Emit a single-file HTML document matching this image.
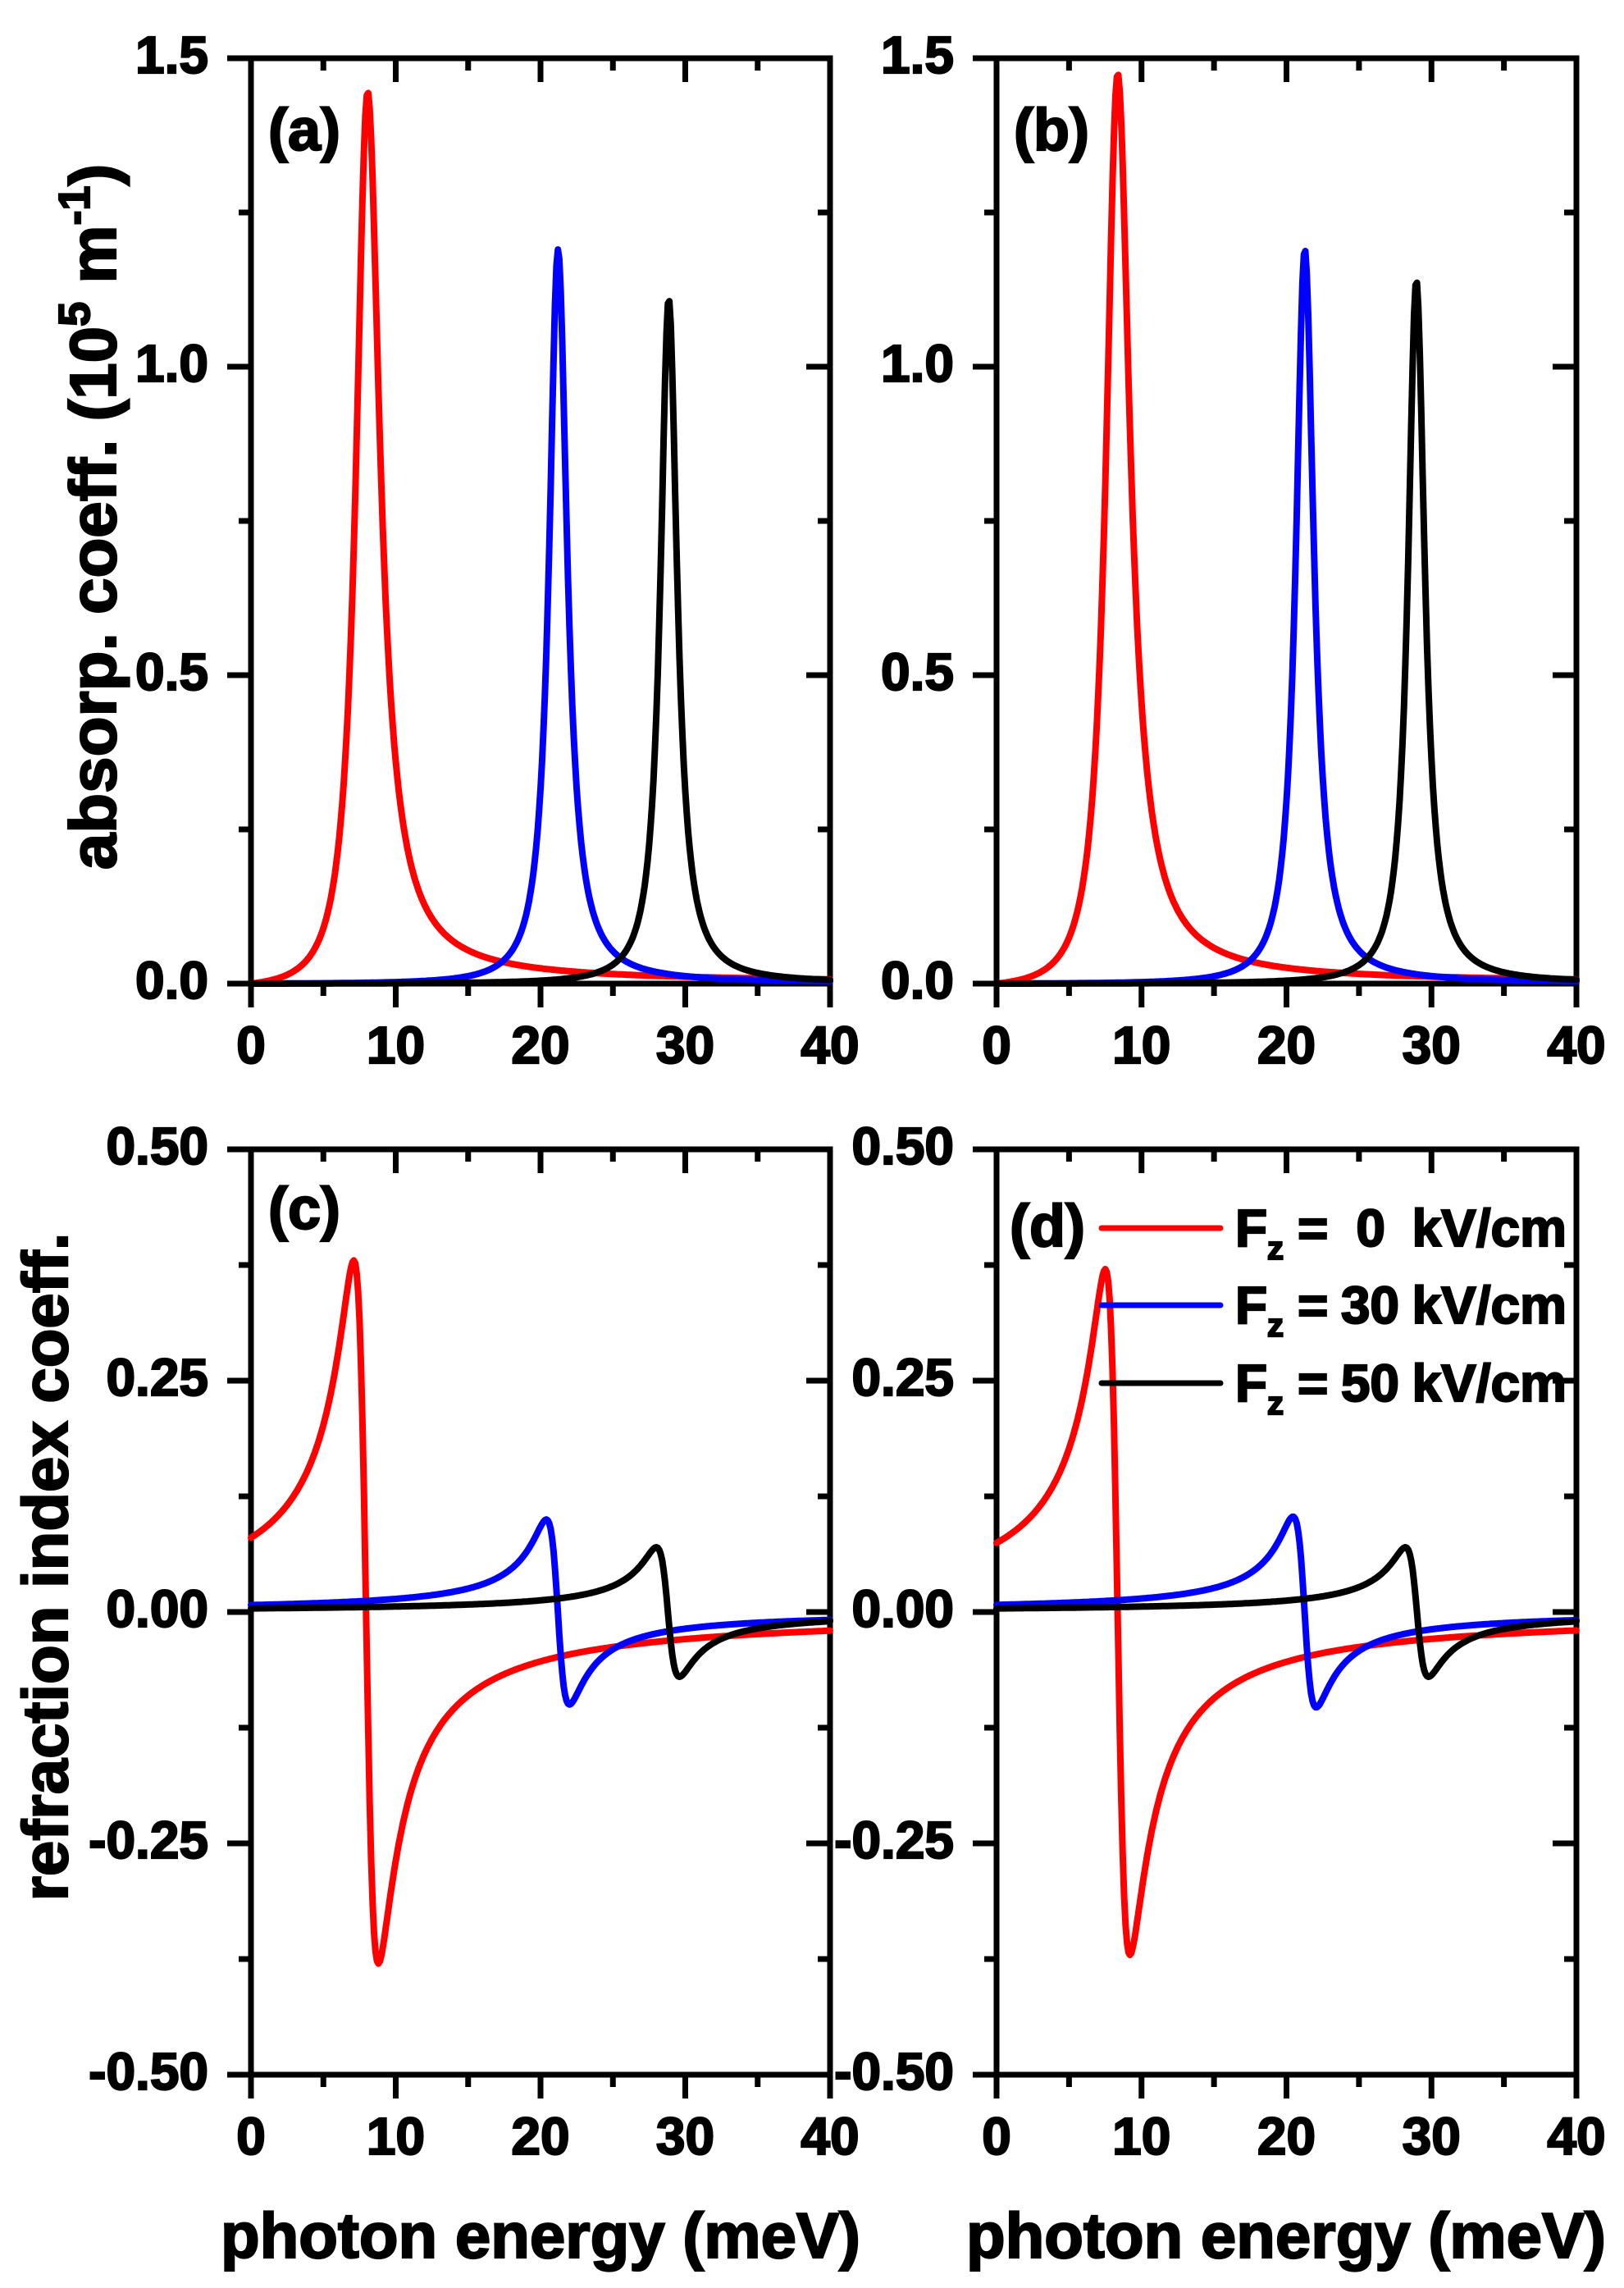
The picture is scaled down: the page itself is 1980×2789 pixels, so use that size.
<!DOCTYPE html>
<html><head><meta charset="utf-8"><style>
html,body{margin:0;padding:0;background:#fff;}
svg{display:block;}
text{font-family:"Liberation Sans",Arial,sans-serif;font-weight:bold;fill:#000;stroke:#000;stroke-width:2.2;}
</style></head><body>
<svg id="s" width="1980" height="2789" viewBox="0 0 1980 2789" xmlns="http://www.w3.org/2000/svg">
<g id="axes" stroke="#000" stroke-width="7" fill="none"></g>
<g id="curves" fill="none" stroke-width="8" stroke-linejoin="round" stroke-linecap="round"></g>
<g id="labels" font-size="64"></g>

<text x="327" y="183" font-size="72">(a)</text>
<text x="1236" y="183" font-size="72">(b)</text>
<text x="327" y="1498" font-size="72">(c)</text>
<text x="1231" y="1519" font-size="72">(d)</text>

<text font-size="80" transform="translate(141,630) rotate(-90)" text-anchor="middle">absorp. coeff. (10<tspan font-size="54" dy="-32">5</tspan><tspan dy="32"> m</tspan><tspan font-size="54" dy="-32">-1</tspan><tspan dy="32">)</tspan></text>
<text font-size="78" transform="translate(82,1910) rotate(-90)" text-anchor="middle">refraction index coeff.</text>
<text x="659" y="2752" font-size="78" text-anchor="middle">photon energy (meV)</text>
<text x="1568" y="2752" font-size="78" text-anchor="middle">photon energy (meV)</text>

<g stroke-width="7" stroke-linecap="round">
<line x1="1343" y1="1497" x2="1488" y2="1497" stroke="#f00"/>
<line x1="1343" y1="1591" x2="1488" y2="1591" stroke="#00f"/>
<line x1="1343" y1="1686" x2="1488" y2="1686" stroke="#000"/>
</g>
<g font-size="64">
<text x="1506" y="1519">F</text><text x="1545" y="1535" font-size="40">z</text><text x="1582" y="1519">=</text><text x="1689" y="1519" text-anchor="end">0</text><text x="1910" y="1519" text-anchor="end">kV/cm</text>
<text x="1506" y="1613">F</text><text x="1545" y="1629" font-size="40">z</text><text x="1582" y="1613">=</text><text x="1706" y="1613" text-anchor="end">30</text><text x="1910" y="1613" text-anchor="end">kV/cm</text>
<text x="1506" y="1708">F</text><text x="1545" y="1724" font-size="40">z</text><text x="1582" y="1708">=</text><text x="1706" y="1708" text-anchor="end">50</text><text x="1910" y="1708" text-anchor="end">kV/cm</text>
</g>
</svg>
<script>
(function(){
var NS="http://www.w3.org/2000/svg";
var axes=document.getElementById('axes'),curves=document.getElementById('curves'),labels=document.getElementById('labels');
function el(p,t,a,txt){var e=document.createElementNS(NS,t);for(var k in a)e.setAttribute(k,a[k]);if(txt!=null)e.textContent=txt;p.appendChild(e);return e;}
var panels=[
 {x0:306,x1:1012,yt:71,yb:1199,ymin:0,ymax:1.5,maj:[0,0.5,1.0,1.5],lab:["0.0","0.5","1.0","1.5"],min:[0.25,0.75,1.25],type:'a',
  pk:[[8.0,1.44,1.0,'#f00'],[21.2,1.19,0.75,'#00f'],[28.85,1.11,0.7,'#000']]},
 {x0:1215,x1:1922,yt:71,yb:1199,ymin:0,ymax:1.5,maj:[0,0.5,1.0,1.5],lab:["0.0","0.5","1.0","1.5"],min:[0.25,0.75,1.25],type:'a',
  pk:[[8.3,1.47,1.0,'#f00'],[21.25,1.19,0.75,'#00f'],[28.95,1.14,0.7,'#000']]},
 {x0:306,x1:1012,yt:1401,yb:2529,ymin:-0.5,ymax:0.5,maj:[-0.5,-0.25,0,0.25,0.5],lab:["-0.50","-0.25","0.00","0.25","0.50"],min:[-0.375,-0.125,0.125,0.375],type:'n',
  pk:[[7.95,0.646,0.85,'#f00'],[21.2,0.16,0.8,'#00f'],[28.8,0.112,0.8,'#000']]},
 {x0:1215,x1:1922,yt:1401,yb:2529,ymin:-0.5,ymax:0.5,maj:[-0.5,-0.25,0,0.25,0.5],lab:["-0.50","-0.25","0.00","0.25","0.50"],min:[-0.375,-0.125,0.125,0.375],type:'n',
  pk:[[8.35,0.63,0.85,'#f00'],[21.25,0.165,0.8,'#00f'],[29.0,0.112,0.8,'#000']]}
];
panels.forEach(function(p){
 var X=function(e){return p.x0+(p.x1-p.x0)*e/40;};
 var Y=function(v){return p.yb-(p.yb-p.yt)*(v-p.ymin)/(p.ymax-p.ymin);};
 el(axes,'rect',{x:p.x0,y:p.yt,width:p.x1-p.x0,height:p.yb-p.yt,'stroke-linejoin':'miter'});
 for(var e=0;e<=40;e+=5){var m=(e%10==0);var x=X(e);
  el(axes,'line',{x1:x,y1:p.yb,x2:x,y2:p.yb+(m?29:15)});
  el(axes,'line',{x1:x,y1:p.yt,x2:x,y2:p.yt+(m?29:15)});
  if(m) el(labels,'text',{x:x,y:p.yb+97,'text-anchor':'middle'},String(e));}
 p.maj.forEach(function(v,i){var y=Y(v);
  el(axes,'line',{x1:p.x0-29,y1:y,x2:p.x0,y2:y});
  el(axes,'line',{x1:p.x1-29,y1:y,x2:p.x1,y2:y});
  el(labels,'text',{x:p.x0-52,y:y+18,'text-anchor':'end'},p.lab[i]);});
 p.min.forEach(function(v){var y=Y(v);
  el(axes,'line',{x1:p.x0-15,y1:y,x2:p.x0,y2:y});
  el(axes,'line',{x1:p.x1-15,y1:y,x2:p.x1,y2:y});});
 p.pk.forEach(function(k){
  var E0=k[0],A=k[1],G=k[2],d='';
  for(var i=0;i<=400;i++){var E=i*0.1,v;
   if(p.type=='a'){v=A*G*G/((E-E0)*(E-E0)+G*G)*(E/E0);}
   else{var dd=E0-E;v=A*dd/(dd*dd+G*G);}
   d+=(i?'L':'M')+X(E).toFixed(1)+','+Y(v).toFixed(1);}
  el(curves,'path',{d:d,stroke:k[3]});
 });
});
})();
</script>
</body></html>
